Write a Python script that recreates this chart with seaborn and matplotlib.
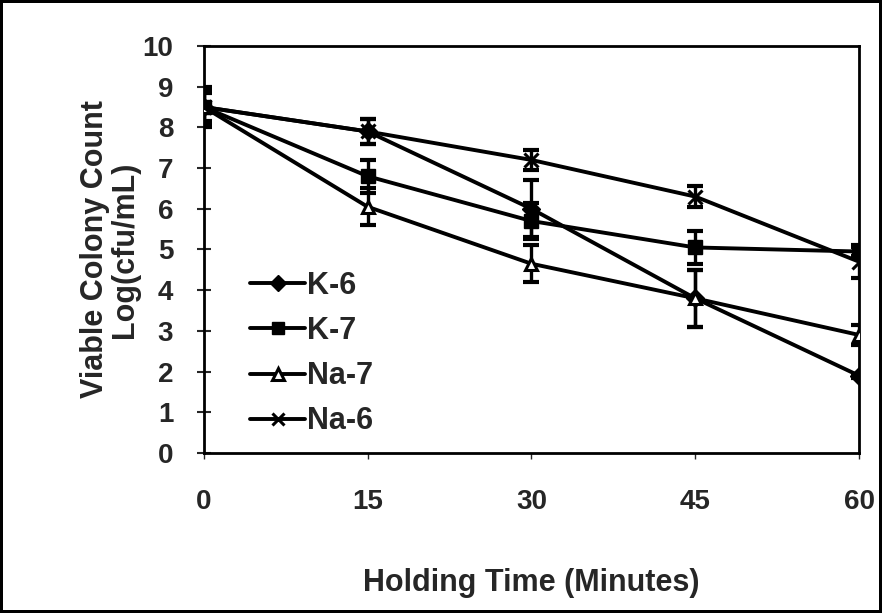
import matplotlib
matplotlib.use("Agg")
import matplotlib.pyplot as plt
import seaborn as sns
import pandas as pd
import numpy as np
from matplotlib.lines import Line2D

times = [0, 15, 30, 45, 60]
series_names = ["K-6", "K-7", "Na-7", "Na-6"]
k6 = [8.5, 7.9, 6.0, 3.8, 1.9]
k7 = [8.5, 6.8, 5.7, 5.05, 4.95]
na7 = [8.5, 6.05, 4.65, 3.8, 2.9]
na6 = [8.5, 7.9, 7.2, 6.3, 4.7]
k6_err = [0.5, 0.3, 0.7, 0.7, 0.05]
k7_err = [0.1, 0.4, 0.45, 0.4, 0.1]
na7_err = [0.35, 0.45, 0.45, 0.7, 0.25]
na6_err = [0.45, 0.3, 0.25, 0.25, 0.4]
x_ticks = [0, 15, 30, 45, 60]
y_ticks = list(range(0, 11))

values = {"K-6": k6, "K-7": k7, "Na-7": na7, "Na-6": na6}
errors = {"K-6": k6_err, "K-7": k7_err, "Na-7": na7_err, "Na-6": na6_err}

rows = []
for name in series_names:
    for t, v, e in zip(times, values[name], errors[name]):
        rows.append({"time": t, "count": v, "err": e, "series": name})
df = pd.DataFrame(rows)

sns.set_theme(style="white")
plt.rcParams["font.family"] = ["Liberation Sans", "DejaVu Sans"]
plt.rcParams["font.weight"] = "bold"

fig = plt.figure(figsize=(8.82, 6.13), dpi=100)
fig.patch.set_facecolor("white")
fig.patch.set_edgecolor("black")
fig.patch.set_linewidth(3)
ax = fig.add_axes([0.231, 0.261, 0.743, 0.664])

markers = {"K-6": "D", "K-7": "s", "Na-7": "^", "Na-6": "x"}
msizes = {"K-6": 9, "K-7": 10, "Na-7": 9, "Na-6": 10}
mfc = {"K-6": "black", "K-7": "black", "Na-7": "white", "Na-6": "black"}
mew = {"K-6": 1.0, "K-7": 1.0, "Na-7": 2.2, "Na-6": 2.2}

for name in series_names:
    sub = df[df["series"] == name]
    ax.errorbar(sub["time"], sub["count"], yerr=sub["err"], fmt="none",
                ecolor="black", elinewidth=2.4, capsize=6, capthick=3, zorder=2)

for name in series_names:
    sub = df[df["series"] == name]
    sns.lineplot(data=sub, x="time", y="count", color="black",
                 marker=markers[name], markersize=msizes[name],
                 markerfacecolor=mfc[name], markeredgecolor="black",
                 markeredgewidth=mew[name], linewidth=2.8, ax=ax,
                 legend=False, zorder=3, errorbar=None)

handles = [Line2D([0], [0], color="black", lw=2.8, marker=markers[n],
                  markersize=msizes[n] * 0.9, markerfacecolor=mfc[n],
                  markeredgecolor="black", markeredgewidth=mew[n])
           for n in series_names]
leg = ax.legend(handles, series_names, loc="upper left",
                bbox_to_anchor=(0.071, 0.448), frameon=False,
                fontsize=22, handlelength=1.8, handletextpad=0.05,
                labelspacing=0.5, borderaxespad=0, borderpad=0)
for t in leg.get_texts():
    t.set_fontweight("bold")

ax.set_xlim(0, 60)
ax.set_ylim(0, 10)
ax.set_xticks(x_ticks)
ax.set_yticks(y_ticks)
ax.set_xticklabels([str(t) for t in x_ticks], fontsize=20, fontweight="bold")
ax.set_yticklabels([str(t) for t in y_ticks], fontsize=20, fontweight="bold")
ax.tick_params(axis="y", direction="inout", length=10, width=1.5, pad=17, left=True)
ax.tick_params(axis="x", direction="out", length=4, width=1.0, pad=22, bottom=True)
ax.set_xlabel("Holding Time (Minutes)", fontsize=22, fontweight="bold", labelpad=38)
ax.set_ylabel("Viable Colony Count\nLog(cfu/mL)", fontsize=22, fontweight="bold",
              labelpad=2, linespacing=1.0)
for s in ax.spines.values():
    s.set_visible(True)
    s.set_color("black")
    s.set_linewidth(2.0)
ax.grid(False)

fig.savefig("out.png", dpi=100, facecolor="white", edgecolor="black")
